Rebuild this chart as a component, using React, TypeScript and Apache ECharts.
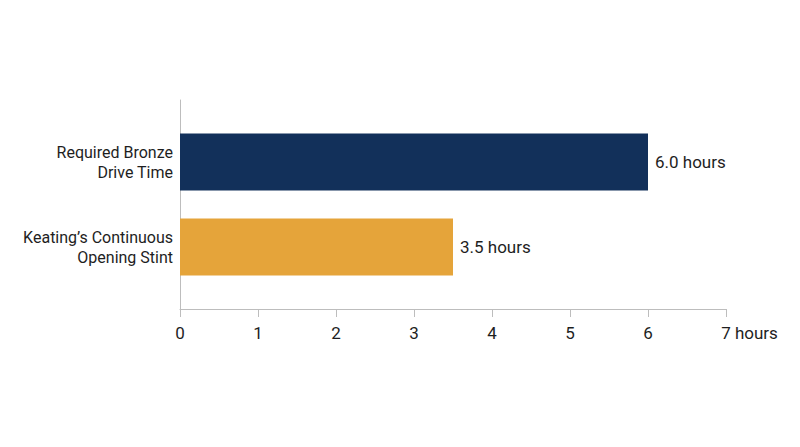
import { useEffect, useRef } from "react";
import * as echarts from "echarts";

const categories = ["Keating’s Continuous\nOpening Stint", "Required Bronze\nDrive Time"];
const hours = [3.5, 6.0];
const barColors = ["#E5A43A", "#12305A"];
const xTicks = ["0", "1", "2", "3", "4", "5", "6", "7"];
const unitLabel = " hours";

const FONT = "Roboto, 'Noto Sans', sans-serif";

export default function App() {
  const chartRef = useRef<HTMLDivElement>(null);

  useEffect(() => {
    if (!chartRef.current) return;
    const chart = echarts.init(chartRef.current, null, { renderer: "svg" });

    chart.setOption({
      animation: false,
      backgroundColor: "#ffffff",
      textStyle: { fontFamily: FONT },
      grid: [
        { left: 180, right: 74, top: 119.5, height: 170 },
        // frame grid only used to draw the full-height y axis line
        { left: 180, right: 74, top: 100, bottom: 138 },
      ],
      xAxis: [
        {
          type: "value",
          gridIndex: 0,
          min: 0,
          max: 7,
          interval: 1,
          offset: 19.5,
          axisLine: { show: true, lineStyle: { color: "#bdbdbd", width: 1 } },
          axisTick: { show: true, length: 8, lineStyle: { color: "#bdbdbd" } },
          splitLine: { show: false },
          axisLabel: {
            color: "#1e1e1e",
            fontSize: 17,
            margin: 15,
            formatter: (v: number) => {
              const i = Math.round(v);
              // last tick: keep the number centred on its tick, unit hangs to the right
              return i === xTicks.length - 1
                ? `{pad|}${xTicks[i]}{unit|${unitLabel}}`
                : xTicks[i];
            },
            rich: {
              pad: { width: 47 },
              unit: { fontSize: 17, color: "#1e1e1e" },
            },
          },
        },
        {
          type: "value",
          gridIndex: 1,
          show: false,
          min: 0,
          max: 1,
        },
      ],
      yAxis: [
        {
          type: "category",
          gridIndex: 0,
          data: categories,
          axisLine: { show: false },
          axisTick: { show: false },
          axisLabel: {
            color: "#1e1e1e",
            fontSize: 16,
            lineHeight: 20,
            margin: 7,
            align: "right",
          },
        },
        {
          type: "value",
          gridIndex: 1,
          min: 0,
          max: 1,
          axisLine: { show: true, lineStyle: { color: "#bdbdbd", width: 1 } },
          axisTick: { show: false },
          axisLabel: { show: false },
          splitLine: { show: false },
        },
      ],
      series: [
        {
          type: "bar",
          xAxisIndex: 0,
          yAxisIndex: 0,
          data: hours.map((v, i) => ({ value: v, itemStyle: { color: barColors[i] } })),
          barWidth: 57,
          label: {
            show: true,
            position: "right",
            distance: 7,
            color: "#1e1e1e",
            fontSize: 17,
            formatter: (p: any) => `${Number(p.value).toFixed(1)}${unitLabel}`,
          },
        },
      ],
    });

    return () => {
      chart.dispose();
    };
  }, []);

  return (
    <div
      ref={chartRef}
      style={{ width: 800, height: 447, position: "absolute", left: 0, top: 0 }}
    />
  );
}
